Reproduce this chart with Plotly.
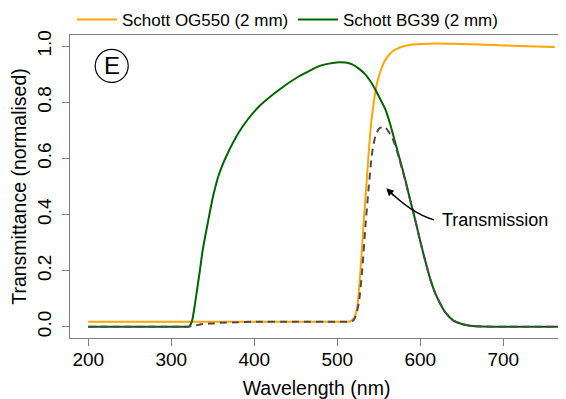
import plotly.graph_objects as go

# ---- data ----
og550_wl = [200, 300, 400, 500, 515, 520, 524, 528, 532, 536, 540, 544, 548, 552, 556,
            560, 565, 570, 580, 590, 600, 620, 640, 660, 680, 700, 720, 740, 762]
og550_t = [0.018, 0.018, 0.018, 0.018, 0.019, 0.03, 0.07, 0.20, 0.38, 0.54, 0.70, 0.80,
           0.87, 0.91, 0.94, 0.96, 0.978, 0.988, 1.0, 1.006, 1.008, 1.01, 1.009, 1.007,
           1.005, 1.003, 1.001, 0.999, 0.997]

bg39_wl = [200, 300, 318, 322, 325, 328, 331, 334, 338, 344, 350, 358, 370, 386, 406, 430,
           454, 466, 478, 490, 502, 510, 518, 526, 534, 540, 546, 552, 558, 564, 570, 576,
           582, 588, 594, 600, 606, 612, 618, 624, 630, 640, 650, 660, 675, 700, 740, 780]
bg39_t = [0, 0, 0, 0.002, 0.02, 0.07, 0.13, 0.19, 0.275, 0.37, 0.46, 0.548, 0.631, 0.714,
          0.786, 0.845, 0.893, 0.911, 0.929, 0.938, 0.943, 0.942, 0.935, 0.92, 0.899, 0.875,
          0.845, 0.81, 0.775, 0.72, 0.655, 0.59, 0.524, 0.45, 0.38, 0.305, 0.235, 0.17,
          0.12, 0.083, 0.052, 0.022, 0.01, 0.004, 0.001, 0, 0, 0]

trans_wl = [200, 300, 320, 325, 330, 338, 350, 358, 380, 398, 450, 500, 515, 519, 522, 526,
            530, 534, 538, 542, 546, 550, 554, 558, 562, 566, 570, 576, 582, 588, 594, 600,
            606, 612, 618, 624, 630, 640, 650, 660, 675, 700, 740, 780]
trans_t = [0, 0, 0, 0.002, 0.005, 0.010, 0.012, 0.014, 0.016, 0.018, 0.018, 0.018, 0.018,
           0.022, 0.036, 0.085, 0.2, 0.36, 0.5, 0.62, 0.68, 0.705, 0.712, 0.71, 0.695,
           0.675, 0.645, 0.585, 0.52, 0.45, 0.38, 0.305, 0.235, 0.17, 0.12, 0.083, 0.052,
           0.022, 0.01, 0.004, 0.001, 0, 0, 0]

x_ticks = [200, 300, 400, 500, 600, 700]
y_ticks = [0.0, 0.2, 0.4, 0.6, 0.8, 1.0]

FONT = "Liberation Sans, Arial, sans-serif"
AXCOL = "#808080"

fig = go.Figure()
fig.add_trace(go.Scatter(x=og550_wl, y=og550_t, mode="lines", name="Schott OG550 (2 mm)",
                         line=dict(color="#FFA500", width=2, shape="spline", smoothing=0.6)))
fig.add_trace(go.Scatter(x=bg39_wl, y=bg39_t, mode="lines", name="Schott BG39 (2 mm)",
                         line=dict(color="#006400", width=2, shape="spline", smoothing=0.6)))
fig.add_trace(go.Scatter(x=trans_wl, y=trans_t, mode="lines", name="Transmission",
                         showlegend=False,
                         line=dict(color="#4D4D4D", width=2, dash="7px,5px",
                                   shape="spline", smoothing=0.6)))

# curved arrow
fig.add_shape(type="path", xref="x", yref="y",
              path="M 616.5,0.381 Q 589.5,0.404 560.5,0.490",
              line=dict(color="black", width=1.5))
fig.add_annotation(x=559.1, y=0.494, xref="x", yref="y", text="", showarrow=True,
                   ax=9, ay=9, arrowhead=2, arrowsize=1, arrowwidth=1.5,
                   arrowcolor="black", standoff=0)
fig.add_annotation(x=624, y=0.381, xref="x", yref="y", text="Transmission",
                   showarrow=False, xanchor="left", yanchor="middle",
                   font=dict(family=FONT, size=18, color="black"))

# panel label
fig.add_shape(type="circle", xref="x domain", yref="y domain", xsizemode="pixel",
              ysizemode="pixel", xanchor=0.0846, yanchor=0.898,
              x0=-16.5, x1=16.5, y0=-16.5, y1=16.5,
              line=dict(color="black", width=1.2))
fig.add_annotation(x=0.0846, y=0.898, xref="x domain", yref="y domain", text="E",
                   showarrow=False, xanchor="center", yanchor="middle",
                   font=dict(family=FONT, size=24, color="black"))

# the page body adds an 8px offset, so the figure is sized 8px smaller
fig.update_layout(
    width=558, height=391,
    margin=dict(l=62, r=3, t=27, b=61, autoexpand=False),
    paper_bgcolor="white", plot_bgcolor="white",
    font=dict(family=FONT, size=19, color="black"),
    showlegend=True,
    legend=dict(orientation="h", x=0.004, y=1.05, xanchor="left", yanchor="middle",
                font=dict(family=FONT, size=17, color="black"),
                itemwidth=40, entrywidth=166, entrywidthmode="pixels",
                bgcolor="rgba(0,0,0,0)"),
)
fig.update_xaxes(range=[178, 772], tickvals=x_ticks, ticktext=[str(v) for v in x_ticks],
                 showgrid=False, zeroline=False, showline=True, mirror=True,
                 linecolor=AXCOL, linewidth=1, ticks="outside", ticklen=7,
                 tickcolor=AXCOL, tickfont=dict(size=19), automargin=False,
                 ticklabelstandoff=-3,
                 title=dict(text="Wavelength (nm)", font=dict(size=19.5), standoff=13))
fig.update_yaxes(range=[-0.04, 1.04], tickvals=y_ticks, ticktext=[f"{v:.1f}" for v in y_ticks],
                 showgrid=False, zeroline=False, showline=True, mirror=True,
                 linecolor=AXCOL, linewidth=1, ticks="outside", ticklen=7,
                 tickcolor=AXCOL, tickangle=-90, tickfont=dict(size=19), automargin=False,
                 ticklabelstandoff=3,
                 title=dict(text="Transmittance (normalised)", font=dict(size=19.5), standoff=2))

fig.write_html("out.html")
